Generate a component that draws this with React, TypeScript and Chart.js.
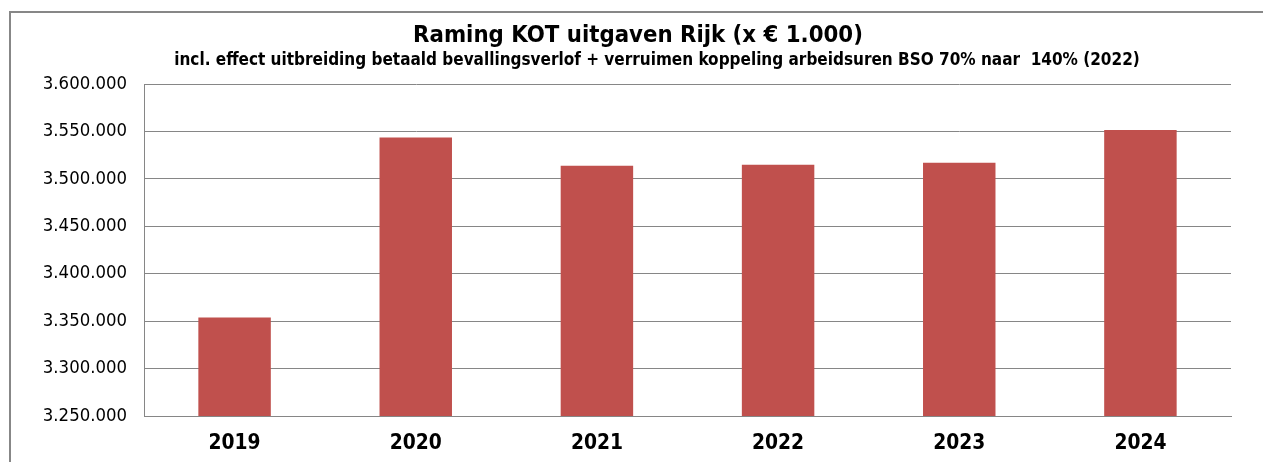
import React, { useEffect, useRef } from "react";
import { Chart, registerables } from "chart.js";

Chart.register(...registerables);

const TITLE = "Raming KOT uitgaven Rijk (x € 1.000)";
const SUBTITLE =
  "incl. effect uitbreiding betaald bevallingsverlof + verruimen koppeling arbeidsuren BSO 70% naar  140% (2022)";
const YEARS = ["2019", "2020", "2021", "2022", "2023", "2024"];
const SPENDING = [3353900, 3543600, 3513800, 3514900, 3517000, 3551400];
const Y_MIN = 3250000;
const Y_MAX = 3600000;
const Y_STEP = 50000;

const FONT = "'DejaVu Sans Condensed', 'DejaVu Sans', sans-serif";
const BAR_COLOR = "#C0504D";
const GRID_COLOR = "#868686";

function formatNL(v: number): string {
  const s = Math.round(v).toString();
  return s.replace(/\B(?=(\d{3})+(?!\d))/g, ".");
}

const headerPlugin = {
  id: "header",
  afterDraw(chart: any) {
    const ctx = chart.ctx;
    ctx.save();
    ctx.fillStyle = "#000";
    ctx.textAlign = "center";
    ctx.textBaseline = "alphabetic";
    ctx.font = `bold 23.7px ${FONT}`;
    ctx.fillText(TITLE, 638, 42);
    ctx.font = `bold 17px ${FONT}`;
    ctx.fillText(SUBTITLE, 657, 65);
    ctx.restore();
  },
};

export default function App() {
  const ref = useRef<HTMLCanvasElement>(null);
  useEffect(() => {
    if (!ref.current) return;
    const chart = new Chart(ref.current, {
      type: "bar",
      data: {
        labels: YEARS,
        datasets: [
          {
            data: SPENDING,
            backgroundColor: BAR_COLOR,
            borderWidth: 0,
            barPercentage: 0.4,
            categoryPercentage: 1,
          },
        ],
      },
      options: {
        animation: false,
        responsive: false,
        layout: { padding: { top: 84, right: 32, left: 0, bottom: 0 } },
        plugins: {
          legend: { display: false },
          title: { display: false },
          tooltip: { enabled: false },
        },
        scales: {
          x: {
            grid: { display: true, color: "rgba(0,0,0,0)", drawTicks: false },
            border: { display: true, color: GRID_COLOR, width: 1 },
            ticks: {
              color: "#000",
              font: { family: FONT, size: 20.8, weight: "bold" },
              padding: 15,
            },
            afterFit(scale: any) {
              scale.height = 46;
            },
          },
          y: {
            min: Y_MIN,
            max: Y_MAX,
            grid: { color: GRID_COLOR, lineWidth: 1, drawTicks: false },
            border: { display: true, color: GRID_COLOR, width: 1 },
            ticks: {
              stepSize: Y_STEP,
              color: "#000",
              font: { family: FONT, size: 18.4 },
              padding: 17,
              callback: (v: any) => formatNL(Number(v)),
            },
            afterFit(scale: any) {
              scale.width = 144;
            },
          },
        },
      },
      plugins: [headerPlugin],
    });
    return () => chart.destroy();
  }, []);
  return (
    <div style={{ position: "fixed", left: 0, top: 0, width: 1263, height: 462, background: "#fff", overflow: "hidden" }}>
      <div
        style={{
          position: "absolute",
          left: 9,
          top: 11,
          width: 1400,
          height: 600,
          borderLeft: "2px solid #878787",
          borderTop: "2px solid #878787",
        }}
      />
      <canvas ref={ref} width={1263} height={462} style={{ position: "absolute", left: 0, top: 0, width: 1263, height: 462 }} />
    </div>
  );
}
